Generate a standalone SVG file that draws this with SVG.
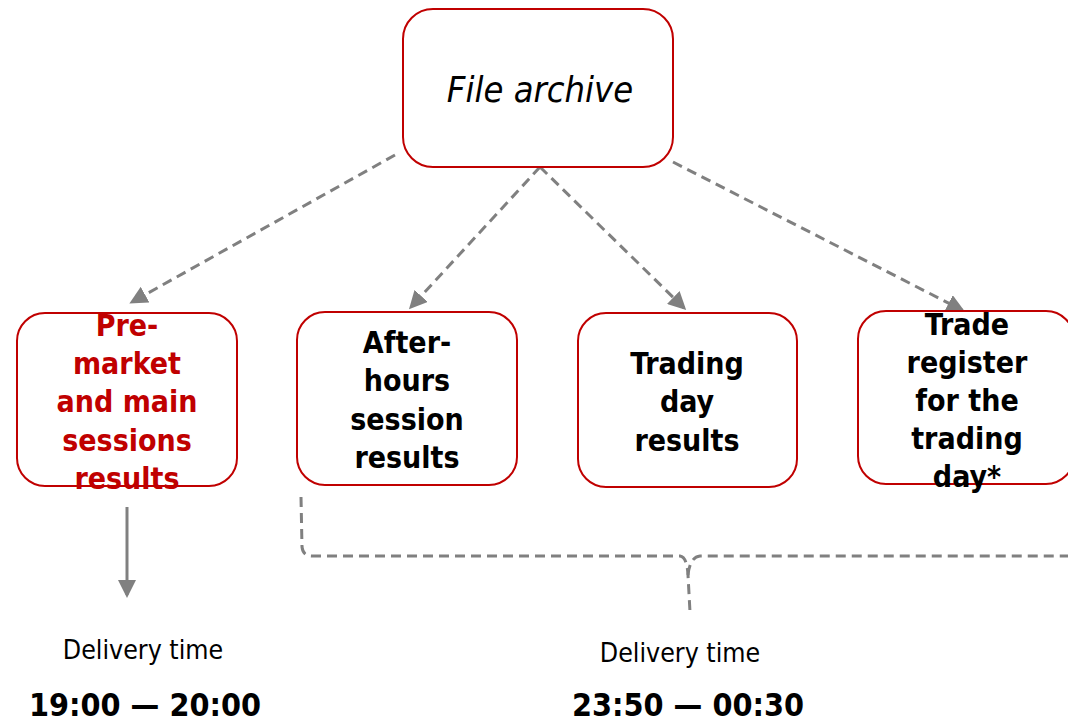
<svg xmlns="http://www.w3.org/2000/svg" width="1068" height="723" viewBox="0 0 1068 723">
<style>
.box{fill:#fff;stroke:#c00000;stroke-width:2}
.t{font-family:"DejaVu Sans Condensed","Liberation Sans",sans-serif;text-anchor:middle}
.b{font-weight:bold;font-size:30px}
.tm{font-weight:bold;font-size:32px}
.red{fill:#c00000}
.blk{fill:#000}
.dash{fill:none;stroke:#808080;stroke-width:3;stroke-dasharray:10 6}
.solid{fill:none;stroke:#808080;stroke-width:3}
</style>
<defs>
<marker id="ah" markerWidth="6" markerHeight="6" refX="5" refY="3" orient="auto" markerUnits="strokeWidth">
<path d="M0,0 L6,3 L0,6 z" fill="#808080"/>
</marker>
</defs>
<g id="connectors">
<line class="dash" x1="395" y1="155" x2="132" y2="302" marker-end="url(#ah)"/>
<line class="dash" x1="540" y1="167" x2="411" y2="307" marker-end="url(#ah)"/>
<line class="dash" x1="540" y1="167" x2="684" y2="308" marker-end="url(#ah)"/>
<line class="dash" x1="673" y1="162" x2="962" y2="310" marker-end="url(#ah)"/>
<line class="solid" x1="127" y1="507" x2="127" y2="595" marker-end="url(#ah)"/>
<path class="dash" d="M301,497 L302,547 Q303,556 312,556 L680,556 Q687,557 688,575 L690,612"/>
<path class="dash" d="M688,575 Q690,557 700,556 L1068,556"/>
</g>
<g id="file-archive">
<rect class="box" x="403" y="9" width="270" height="158" rx="30"/>
<text class="t blk" x="540" y="102" font-size="36" font-style="italic">File archive</text>
</g>
<g id="premarket">
<rect class="box" x="17" y="313" width="220" height="173" rx="28"/>
<text class="t b red" x="127"><tspan x="127" y="336">Pre-</tspan><tspan x="127" y="374">market</tspan><tspan x="127" y="412">and main</tspan><tspan x="127" y="451">sessions</tspan><tspan x="127" y="489">results</tspan></text>
</g>
<g id="afterhours">
<rect class="box" x="297" y="312" width="220" height="173" rx="28"/>
<text class="t b blk"><tspan x="407" y="353">After-</tspan><tspan x="407" y="391">hours</tspan><tspan x="407" y="430">session</tspan><tspan x="407" y="468">results</tspan></text>
</g>
<g id="tradingday">
<rect class="box" x="578" y="313" width="219" height="174" rx="28"/>
<text class="t b blk"><tspan x="687" y="374">Trading</tspan><tspan x="687" y="412">day</tspan><tspan x="687" y="451">results</tspan></text>
</g>
<g id="traderegister">
<rect class="box" x="858" y="311" width="216" height="173" rx="28"/>
<text class="t b blk"><tspan x="967" y="335">Trade</tspan><tspan x="967" y="373">register</tspan><tspan x="967" y="411">for the</tspan><tspan x="967" y="449">trading</tspan><tspan x="967" y="487">day*</tspan></text>
</g>
<g id="delivery1">
<text class="t blk" x="143" y="659" font-size="26.5">Delivery time</text>
<text class="t tm blk" x="145" y="716">19:00 — 20:00</text>
</g>
<g id="delivery2">
<text class="t blk" x="680" y="662" font-size="26.5">Delivery time</text>
<text class="t tm blk" x="688" y="716">23:50 — 00:30</text>
</g>
</svg>
